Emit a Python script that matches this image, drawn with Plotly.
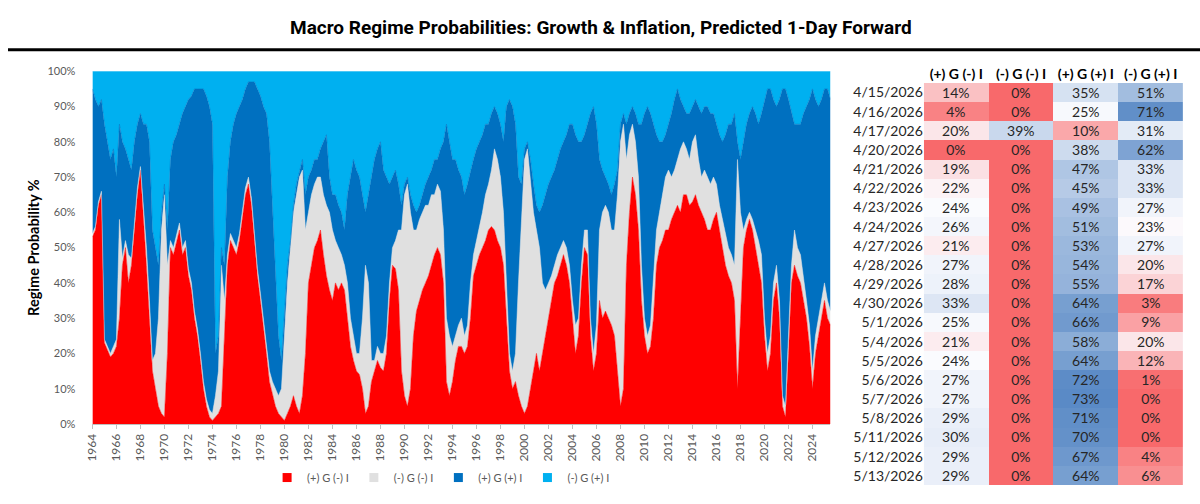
import numpy as np
import plotly.graph_objects as go

# ---------------- stacked area data (quarterly samples, % probability) ----------------
years = [
    1964.0, 1964.25, 1964.5, 1964.75, 1965.0, 1965.25, 1965.5, 1965.75,
    1966.0, 1966.25, 1966.5, 1966.75, 1967.0, 1967.25, 1967.5, 1967.75,
    1968.0, 1968.25, 1968.5, 1968.75, 1969.0, 1969.25, 1969.5, 1969.75,
    1970.0, 1970.25, 1970.5, 1970.75, 1971.0, 1971.25, 1971.5, 1971.75,
    1972.0, 1972.25, 1972.5, 1972.75, 1973.0, 1973.25, 1973.5, 1973.75,
    1974.0, 1974.25, 1974.5, 1974.75, 1975.0, 1975.25, 1975.5, 1975.75,
    1976.0, 1976.25, 1976.5, 1976.75, 1977.0, 1977.25, 1977.5, 1977.75,
    1978.0, 1978.25, 1978.5, 1978.75, 1979.0, 1979.25, 1979.5, 1979.75,
    1980.0, 1980.25, 1980.5, 1980.75, 1981.0, 1981.25, 1981.5, 1981.75,
    1982.0, 1982.25, 1982.5, 1982.75, 1983.0, 1983.25, 1983.5, 1983.75,
    1984.0, 1984.25, 1984.5, 1984.75, 1985.0, 1985.25, 1985.5, 1985.75,
    1986.0, 1986.25, 1986.5, 1986.75, 1987.0, 1987.25, 1987.5, 1987.75,
    1988.0, 1988.25, 1988.5, 1988.75, 1989.0, 1989.25, 1989.5, 1989.75,
    1990.0, 1990.25, 1990.5, 1990.75, 1991.0, 1991.25, 1991.5, 1991.75,
    1992.0, 1992.25, 1992.5, 1992.75, 1993.0, 1993.25, 1993.5, 1993.75,
    1994.0, 1994.25, 1994.5, 1994.75, 1995.0, 1995.25, 1995.5, 1995.75,
    1996.0, 1996.25, 1996.5, 1996.75, 1997.0, 1997.25, 1997.5, 1997.75,
    1998.0, 1998.25, 1998.5, 1998.75, 1999.0, 1999.25, 1999.5, 1999.75,
    2000.0, 2000.25, 2000.5, 2000.75, 2001.0, 2001.25, 2001.5, 2001.75,
    2002.0, 2002.25, 2002.5, 2002.75, 2003.0, 2003.25, 2003.5, 2003.75,
    2004.0, 2004.25, 2004.5, 2004.75, 2005.0, 2005.25, 2005.5, 2005.75,
    2006.0, 2006.25, 2006.5, 2006.75, 2007.0, 2007.25, 2007.5, 2007.75,
    2008.0, 2008.25, 2008.5, 2008.75, 2009.0, 2009.25, 2009.5, 2009.75,
    2010.0, 2010.25, 2010.5, 2010.75, 2011.0, 2011.25, 2011.5, 2011.75,
    2012.0, 2012.25, 2012.5, 2012.75, 2013.0, 2013.25, 2013.5, 2013.75,
    2014.0, 2014.25, 2014.5, 2014.75, 2015.0, 2015.25, 2015.5, 2015.75,
    2016.0, 2016.25, 2016.5, 2016.75, 2017.0, 2017.25, 2017.5, 2017.75,
    2018.0, 2018.25, 2018.5, 2018.75, 2019.0, 2019.25, 2019.5, 2019.75,
    2020.0, 2020.25, 2020.5, 2020.75, 2021.0, 2021.25, 2021.5, 2021.75,
    2022.0, 2022.25, 2022.5, 2022.75, 2023.0, 2023.25, 2023.5, 2023.75,
    2024.0, 2024.25, 2024.5, 2024.75, 2025.0, 2025.25, 2025.5,
]

# (+) G (-) I
red = [
    53, 55, 62, 65, 23, 21, 19, 20, 22, 30, 45, 50, 40, 45, 55, 65,
    72, 60, 45, 30, 15, 10, 5, 3, 2, 20, 50, 48, 52, 55, 48, 50,
    42, 38, 30, 25, 18, 10, 5, 2, 1, 2, 3, 5, 25, 45, 52, 50,
    48, 52, 58, 65, 68, 62, 52, 42, 35, 28, 20, 12, 8, 5, 3, 2,
    1, 3, 5, 8, 5, 3, 8, 20, 40, 45, 50, 52, 55, 48, 42, 38,
    35, 40, 38, 40, 38, 30, 22, 18, 15, 14, 10, 3, 5, 12, 15, 18,
    16, 15, 20, 35, 45, 44, 38, 15, 8, 5, 10, 25, 32, 35, 38, 40,
    42, 45, 48, 50, 48, 40, 12, 8, 12, 18, 22, 22, 20, 22, 30, 42,
    45, 48, 50, 52, 55, 56, 55, 52, 50, 45, 30, 15, 10, 12, 8, 5,
    3, 5, 10, 15, 20, 15, 20, 25, 30, 35, 40, 42, 45, 48, 45, 40,
    30, 20, 25, 40, 50, 48, 25, 15, 20, 35, 30, 32, 30, 28, 25, 15,
    5, 10, 45, 60, 70, 65, 55, 35, 25, 20, 22, 30, 45, 50, 52, 55,
    55, 58, 60, 62, 60, 65, 65, 62, 63, 65, 62, 60, 58, 55, 55, 58,
    60, 55, 50, 45, 42, 40, 35, 10, 30, 50, 55, 58, 55, 50, 45, 40,
    25, 15, 20, 35, 40, 30, 5, 2, 20, 40, 45, 42, 40, 35, 30, 22,
    10, 20, 25, 30, 35, 30, 28,
]

# (-) G (-) I
grey = [
    1, 1, 1, 1, 1, 1, 1, 2, 2, 28, 2, 2, 8, 2, 2, 2,
    1, 2, 5, 5, 3, 10, 25, 52, 63, 25, 2, 2, 2, 2, 2, 2,
    2, 2, 2, 2, 2, 2, 2, 2, 2, 6, 12, 40, 10, 3, 2, 2,
    2, 2, 2, 2, 2, 2, 2, 2, 2, 2, 2, 3, 4, 5, 5, 8,
    24, 37, 45, 52, 60, 67, 64, 35, 20, 20, 18, 18, 15, 17, 20, 22,
    20, 12, 12, 8, 7, 10, 8, 7, 5, 6, 20, 42, 35, 6, 3, 4,
    4, 5, 5, 5, 5, 8, 17, 40, 57, 63, 50, 30, 23, 23, 22, 22,
    20, 20, 17, 18, 18, 15, 18, 17, 10, 7, 6, 8, 5, 6, 10, 6,
    7, 7, 10, 13, 13, 16, 23, 23, 20, 15, 10, 5, 5, 8, 32, 55,
    72, 73, 60, 45, 35, 35, 20, 13, 10, 7, 5, 6, 5, 4, 5, 5,
    5, 8, 5, 5, 5, 7, 5, 5, 8, 20, 30, 30, 30, 27, 30, 50,
    75, 75, 30, 22, 15, 15, 15, 10, 5, 5, 6, 10, 10, 10, 13, 15,
    17, 12, 12, 13, 18, 15, 13, 13, 17, 17, 13, 10, 14, 15, 13, 12,
    8, 7, 8, 10, 8, 8, 10, 65, 30, 5, 3, 2, 3, 5, 7, 8,
    5, 5, 5, 5, 5, 5, 3, 3, 5, 5, 10, 8, 8, 7, 5, 6,
    5, 5, 5, 5, 5, 5, 4,
]

# (+) G (+) I
dblue = [
    41, 36, 27, 26, 61, 58, 55, 56, 46, 27, 33, 26, 27, 25, 23, 18,
    15, 23, 35, 45, 37, 30, 15, 5, 3, 10, 23, 30, 28, 28, 38, 38,
    48, 53, 63, 68, 75, 83, 86, 86, 82, 12, 10, 5, 10, 22, 26, 33,
    38, 36, 32, 28, 27, 33, 43, 51, 56, 60, 66, 65, 48, 30, 17, 8,
    5, 5, 2, 2, 3, 2, 3, 10, 10, 7, 7, 5, 8, 15, 20, 10,
    10, 13, 12, 12, 10, 25, 40, 50, 52, 50, 35, 15, 25, 52, 57, 56,
    60, 52, 45, 28, 20, 20, 13, 7, 3, 2, 5, 7, 5, 4, 5, 6,
    8, 7, 10, 7, 12, 25, 55, 55, 53, 50, 44, 40, 40, 40, 32, 27,
    26, 25, 22, 20, 17, 16, 12, 13, 15, 20, 50, 72, 75, 65, 30, 8,
    3, 2, 5, 8, 7, 10, 22, 27, 28, 28, 27, 27, 28, 28, 32, 40,
    50, 54, 50, 35, 27, 30, 58, 70, 57, 20, 12, 8, 8, 10, 13, 7,
    5, 3, 10, 6, 5, 8, 15, 40, 58, 65, 60, 45, 27, 20, 15, 12,
    13, 18, 20, 20, 14, 10, 10, 13, 10, 10, 15, 18, 18, 20, 20, 18,
    17, 20, 22, 27, 35, 37, 43, 5, 15, 25, 27, 28, 32, 33, 33, 40,
    62, 75, 70, 52, 45, 57, 87, 90, 67, 43, 30, 35, 37, 46, 55, 64,
    80, 67, 60, 57, 55, 60, 60,
]

# (-) G (+) I
lblue = [
    5, 8, 10, 8, 15, 20, 25, 22, 30, 15, 20, 22, 25, 28, 20, 15,
    12, 15, 15, 20, 45, 50, 55, 40, 32, 45, 25, 20, 18, 15, 12, 10,
    8, 7, 5, 5, 5, 5, 7, 10, 15, 80, 75, 50, 55, 30, 20, 15,
    12, 10, 8, 5, 3, 3, 3, 5, 7, 10, 12, 20, 40, 60, 75, 82,
    70, 55, 48, 38, 32, 28, 25, 35, 30, 28, 25, 25, 22, 20, 18, 30,
    35, 35, 38, 40, 45, 35, 30, 25, 28, 30, 35, 40, 35, 30, 25, 22,
    20, 28, 30, 32, 30, 28, 32, 38, 32, 30, 35, 38, 40, 38, 35, 32,
    30, 28, 25, 25, 22, 20, 15, 20, 25, 25, 28, 30, 35, 32, 28, 25,
    22, 20, 18, 15, 15, 12, 10, 12, 15, 20, 10, 8, 10, 15, 30, 32,
    22, 20, 25, 32, 38, 40, 38, 35, 32, 30, 28, 25, 22, 20, 18, 15,
    15, 18, 20, 20, 18, 15, 12, 10, 15, 25, 28, 30, 32, 35, 32, 28,
    15, 12, 15, 12, 10, 12, 15, 15, 12, 10, 12, 15, 18, 20, 20, 18,
    15, 12, 8, 5, 8, 10, 12, 12, 10, 8, 10, 12, 10, 10, 12, 12,
    15, 18, 20, 18, 15, 15, 12, 20, 25, 20, 15, 12, 10, 12, 15, 12,
    8, 5, 5, 8, 10, 8, 5, 5, 8, 12, 15, 15, 15, 12, 10, 8,
    5, 8, 10, 8, 5, 5, 8,
]

series_names = ["(+) G (-) I", "(-) G (-) I", "(+) G (+) I", "(-) G (+) I"]
series_colors = ["#FF0000", "#E0E0E0", "#0070C0", "#00B0F0"]
year_ticks = list(range(1964, 2025, 2))

# ---------------- table data ----------------
table_dates = ["4/15/2026", "4/16/2026", "4/17/2026", "4/20/2026", "4/21/2026",
               "4/22/2026", "4/23/2026", "4/24/2026", "4/27/2026", "4/28/2026",
               "4/29/2026", "4/30/2026", "5/1/2026", "5/4/2026", "5/5/2026",
               "5/6/2026", "5/7/2026", "5/8/2026", "5/11/2026", "5/12/2026",
               "5/13/2026"]
tbl_pg_mi = [14, 4, 20, 0, 19, 22, 24, 26, 21, 27, 28, 33, 25, 21, 24, 27, 27, 29, 30, 29, 29]
tbl_mg_mi = [0, 0, 39, 0, 0, 0, 0, 0, 0, 0, 0, 0, 0, 0, 0, 0, 0, 0, 0, 0, 0]
tbl_pg_pi = [35, 25, 10, 38, 47, 45, 49, 51, 53, 54, 55, 64, 66, 58, 64, 72, 73, 71, 70, 67, 64]
tbl_mg_pi = [51, 71, 31, 62, 33, 33, 27, 23, 27, 20, 17, 3, 9, 20, 12, 1, 0, 0, 0, 4, 6]
table_headers = ["(+) G (-) I", "(-) G (-) I", "(+) G (+) I", "(-) G (+) I"]

W, H = 1200, 504
FONT = "Lato, 'Open Sans', 'Noto Sans', sans-serif"

fig = go.Figure()

for name, vals, col in zip(series_names, [red, grey, dblue, lblue], series_colors):
    fig.add_trace(go.Scatter(
        x=years, y=vals, name=name, mode="lines", stackgroup="one",
        groupnorm="percent", line=dict(width=0.5, color=col), fillcolor=col,
        showlegend=False, hoverinfo="skip"))

for name, col in zip(series_names, series_colors):
    fig.add_trace(go.Scatter(
        x=[None], y=[None], mode="markers", name=name,
        marker=dict(symbol="square", size=9, color=col)))

# heatmap table
cols = [tbl_pg_mi, tbl_mg_mi, tbl_pg_pi, tbl_mg_pi]
z = [[c[i] for c in cols] for i in range(len(table_dates))]
txt = [[f"{c[i]}%" for c in cols] for i in range(len(table_dates))]
allv = np.array(cols).ravel()
zmax = float(allv.max())
mid = float(np.median(allv)) / zmax
fig.add_trace(go.Heatmap(
    z=z, x=list(range(4)), y=list(range(len(table_dates))), text=txt,
    texttemplate="%{text}", textfont=dict(family=FONT, size=14, color="#262626"),
    colorscale=[[0, "#F8696B"], [mid, "#FCFCFF"], [1, "#5A8AC6"]],
    zmin=0, zmax=zmax, showscale=False, xaxis="x2", yaxis="y2",
    hoverinfo="skip"))

fig.update_layout(
    width=W, height=H, margin=dict(l=0, r=0, t=0, b=0),
    paper_bgcolor="white", plot_bgcolor="white",
    font=dict(family=FONT),
    xaxis=dict(domain=[85 / W, 828 / W], range=[1964, 2025.5],
               tickvals=year_ticks, ticktext=[str(y) for y in year_ticks],
               tickangle=-90, tickfont=dict(size=12, color="#595959"),
               ticks="outside", ticklen=4, tickcolor="#BFBFBF",
               showline=True, linecolor="#BFBFBF", showgrid=False, zeroline=False),
    yaxis=dict(domain=[1 - 428 / H, 1 - 66 / H], range=[0, 100], dtick=10,
               ticksuffix="%", tickfont=dict(size=11, color="#595959"),
               showgrid=False, zeroline=False, ticklabelstandoff=16,
               title=dict(text="Regime Probability %", standoff=4,
                          font=dict(size=14.5, color="black", weight="bold"))),
    xaxis2=dict(domain=[922 / W, 1183 / W], anchor="y2", side="top",
                range=[-0.5, 3.5], tickvals=list(range(4)), ticktext=table_headers,
                tickfont=dict(size=14, color="black", weight="bold"),
                showgrid=False, zeroline=False, showline=False, ticks=""),
    yaxis2=dict(domain=[1 - 491 / H, 1 - 78 / H], anchor="x2",
                range=[len(table_dates) - 0.5, -0.5],
                tickvals=list(range(len(table_dates))), ticktext=table_dates,
                tickfont=dict(size=14, color="#262626"),
                showgrid=False, zeroline=False, showline=False, ticks=""),
    legend=dict(orientation="h", x=436 / W, xanchor="center", y=1 - 483 / H,
                yanchor="middle", font=dict(size=11, color="#595959"),
                traceorder="normal", itemwidth=30, bgcolor="rgba(0,0,0,0)"),
    shapes=[dict(type="line", xref="paper", yref="paper", x0=0, x1=1,
                 y0=1 - 44 / H, y1=1 - 44 / H, line=dict(color="black", width=3))],
    annotations=[dict(text="Macro Regime Probabilities: Growth & Inflation, Predicted 1-Day Forward",
                      xref="paper", yref="paper", x=597 / W, y=1 - 21 / H,
                      xanchor="center", yanchor="middle", showarrow=False,
                      font=dict(family="Roboto, sans-serif",
                                size=19, color="black", weight="bold"))],
)

fig.write_html("out.html")
